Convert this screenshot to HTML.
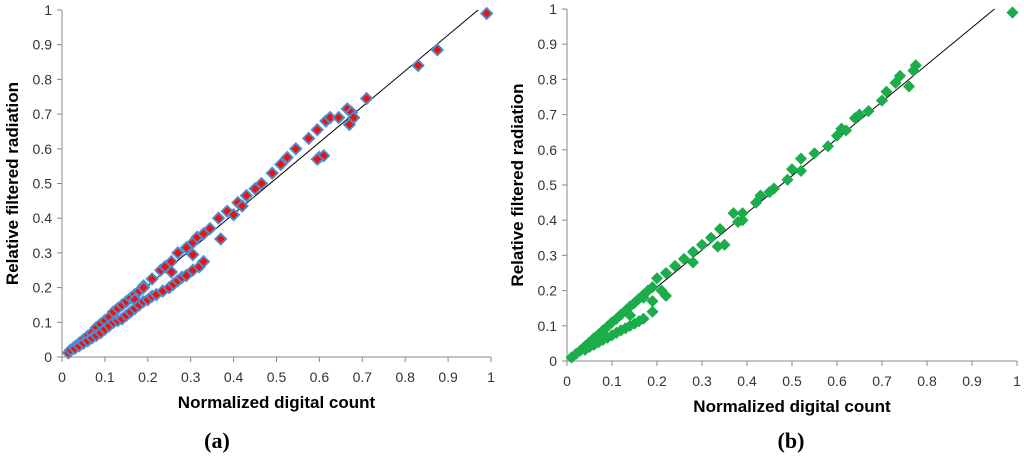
<!DOCTYPE html>
<html><head><meta charset="utf-8"><style>
body{margin:0;background:#fff;width:1024px;height:459px;overflow:hidden}
svg text{font-family:"Liberation Sans",sans-serif}
</style></head><body>
<svg id="chart" width="1024" height="459" xmlns="http://www.w3.org/2000/svg"></svg>
<script>
const ticks=[0,0.1,0.2,0.3,0.4,0.5,0.6,0.7,0.8,0.9,1];
const tickLabels=["0","0.1","0.2","0.3","0.4","0.5","0.6","0.7","0.8","0.9","1"];
const aX=[0.015,0.02,0.03,0.04,0.05,0.06,0.07,0.08,0.09,0.1,0.11,0.12,0.13,0.14,0.15,0.16,0.17,0.18,0.19,0.21,0.23,0.24,0.255,0.27,0.29,0.305,0.315,0.33,0.345,0.365,0.385,0.41,0.43,0.45,0.465,0.49,0.51,0.525,0.545,0.575,0.595,0.615,0.625,0.645,0.665,0.675,0.71,0.83,0.875,0.99,
0.37,0.305,0.255,0.6,0.61,0.595,0.68,0.67,0.4,0.42,0.17,0.19,
0.03,0.04,0.05,0.06,0.07,0.08,0.09,0.1,0.11,0.12,0.13,0.14,0.15,0.16,0.17,0.18,0.19,0.2,0.21,0.22,0.235,0.25,0.26,0.27,0.28,0.29,0.305,0.32,0.33];
const aY=[0.012,0.02,0.03,0.04,0.05,0.06,0.07,0.085,0.095,0.105,0.115,0.13,0.14,0.15,0.16,0.17,0.18,0.19,0.205,0.225,0.25,0.26,0.275,0.3,0.315,0.33,0.345,0.355,0.37,0.4,0.42,0.445,0.465,0.485,0.5,0.53,0.555,0.575,0.6,0.63,0.655,0.68,0.69,0.69,0.715,0.705,0.745,0.84,0.885,0.99,
0.34,0.295,0.245,0.575,0.58,0.57,0.69,0.67,0.41,0.435,0.165,0.2,
0.025,0.032,0.04,0.047,0.055,0.062,0.07,0.08,0.09,0.1,0.105,0.11,0.12,0.13,0.14,0.15,0.16,0.165,0.175,0.18,0.19,0.2,0.21,0.22,0.23,0.235,0.25,0.26,0.275];
const bX=[0.01,0.02,0.03,0.04,0.05,0.06,0.07,0.08,0.09,0.1,0.11,0.12,0.13,0.14,0.15,0.16,0.17,0.18,0.19,
0.04,0.05,0.06,0.07,0.08,0.09,0.1,0.11,0.12,0.13,0.14,0.15,0.16,0.17,
0.19,0.19,0.14,0.21,0.22,0.17,0.2,0.22,0.24,0.26,0.28,0.28,0.3,0.32,0.34,0.335,0.35,0.38,0.37,0.39,0.39,0.42,0.43,0.45,0.46,0.49,0.5,0.52,0.52,0.55,0.58,0.6,0.61,0.62,0.64,0.65,0.67,0.7,0.71,0.73,0.74,0.76,0.77,0.775,0.99];
const bY=[0.01,0.02,0.03,0.042,0.053,0.065,0.075,0.087,0.098,0.11,0.12,0.132,0.143,0.155,0.165,0.177,0.188,0.2,0.21,
0.032,0.04,0.046,0.053,0.06,0.066,0.073,0.08,0.087,0.093,0.1,0.106,0.113,0.12,
0.17,0.14,0.13,0.2,0.185,0.18,0.235,0.25,0.27,0.29,0.31,0.28,0.33,0.35,0.375,0.325,0.33,0.395,0.42,0.4,0.42,0.45,0.47,0.48,0.49,0.515,0.545,0.54,0.575,0.59,0.61,0.64,0.66,0.655,0.69,0.7,0.71,0.74,0.765,0.79,0.81,0.78,0.825,0.84,0.99];
const NS="http://www.w3.org/2000/svg";
const svg=document.getElementById('chart');
function el(t,a,p){const e=document.createElementNS(NS,t);for(const k in a)e.setAttribute(k,a[k]);(p||svg).appendChild(e);return e;}
function panel(cfg){
  const g=el('g',{});
  
  
  const sx=v=>cfg.x0+v*(cfg.x1-cfg.x0), sy=v=>cfg.y0-v*(cfg.y0-cfg.y1);
  el('line',{x1:cfg.x0,y1:cfg.y0,x2:cfg.x1,y2:cfg.y0,stroke:'#888','stroke-width':1},g);
  el('line',{x1:cfg.x0,y1:cfg.y0,x2:cfg.x0,y2:cfg.y1,stroke:'#888','stroke-width':1},g);
  ticks.forEach((t,i)=>{
    el('line',{x1:sx(t),y1:cfg.y0,x2:sx(t),y2:cfg.y0+5,stroke:'#888'},g);
    el('line',{x1:cfg.x0-5,y1:sy(t),x2:cfg.x0,y2:sy(t),stroke:'#888'},g);
    const tx=el('text',{x:sx(t),y:cfg.y0+25,'text-anchor':'middle','font-size':14,fill:'#333'},g);
    tx.textContent=tickLabels[i];
    
    
    const ty=el('text',{x:cfg.x0-10,y:sy(t)+5,'text-anchor':'end','font-size':14,fill:'#333'},g);
    ty.textContent=tickLabels[i];
    
    
  });
  const ln=el('line',{x1:sx(0.01),y1:sy(0.01),x2:sx(cfg.lx),y2:sy(1),stroke:'#000','stroke-width':1},g);
  
  
  const h=cfg.r;
  cfg.xs.forEach((xv,i)=>{
    const cx=sx(xv),cy=sy(cfg.ys[i]);
    const p=el('polygon',{points:`${cx},${cy-h} ${cx+h},${cy} ${cx},${cy+h} ${cx-h},${cy}`,fill:cfg.fill,stroke:cfg.stroke,'stroke-width':cfg.sw},g);
    
    
  });
  const xt=el('text',{x:(cfg.x0+cfg.x1)/2,y:cfg.y0+51,'text-anchor':'middle','font-size':17,'font-weight':'bold',fill:'#000'},g);
  xt.textContent='Normalized digital count';
  
  
  const yt=el('text',{x:0,y:0,'text-anchor':'middle','font-size':17,'font-weight':'bold',fill:'#000',transform:`translate(${cfg.x0-44},${(cfg.y0+cfg.y1)/2}) rotate(-90)`},g);
  yt.textContent='Relative filtered radiation';
  
  
  const lb=el('text',{x:cfg.lbx,y:448,'text-anchor':'middle','font-size':22,'font-weight':'bold',style:'font-family:"Liberation Serif",serif',fill:'#000'},g);
  lb.textContent=cfg.label;
  
  
}
panel({name:'panel-a',x0:62,x1:491,y0:357,y1:10,xs:aX,ys:aY,fill:'#ee1111',stroke:'#4a90d0',sw:1.8,r:5.5,lx:0.97,label:'(a)',lbx:217});
panel({name:'panel-b',x0:567,x1:1017,y0:361,y1:9,xs:bX,ys:bY,fill:'#1aad4a',stroke:'#1aad4a',sw:0.5,r:5.8,lx:0.95,label:'(b)',lbx:791});
</script>
</body></html>
